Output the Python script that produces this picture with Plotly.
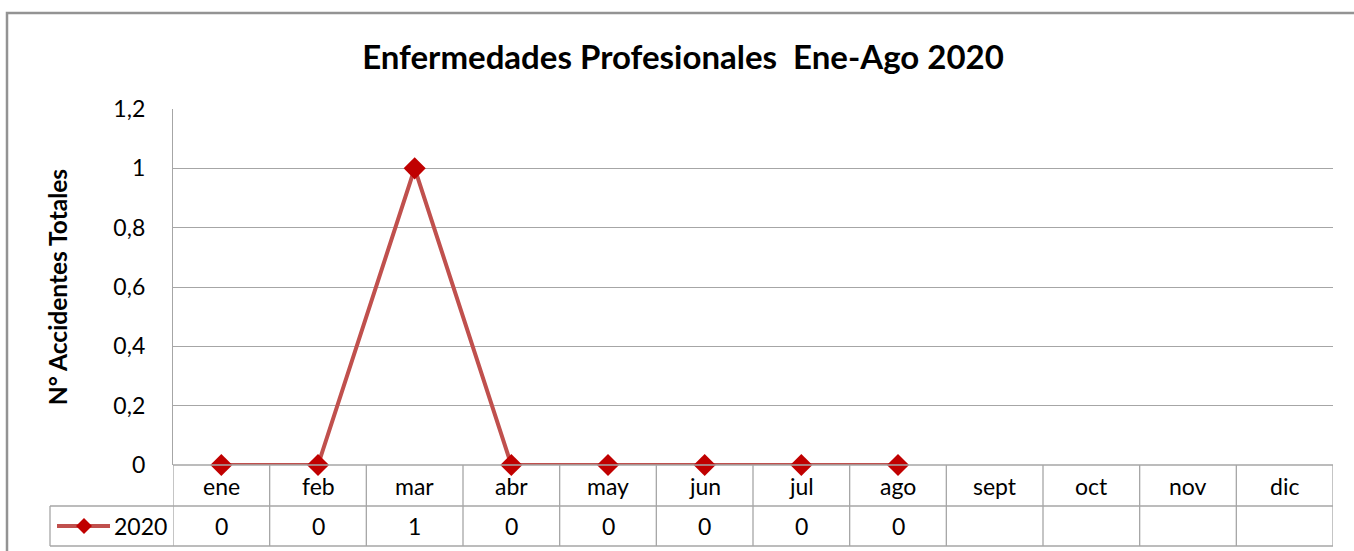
import plotly.graph_objects as go

# Monthly occupational disease counts for 2020 (January to August reported)
months = ["ene", "feb", "mar", "abr", "may", "jun", "jul", "ago",
          "sept", "oct", "nov", "dic"]
series_name = "2020"
values_2020 = [0, 0, 1, 0, 0, 0, 0, 0]
y_ticks = [0, 0.2, 0.4, 0.6, 0.8, 1.0, 1.2]

FONT = "Lato, 'Open Sans', sans-serif"
GRID = "#a6a6a6"
LINE_RED = "#c0504d"
MARK_RED = "#c00000"

W, H = 1354, 551
L, R, T, B = 173, 21, 109, 86
plot_w, plot_h = W - L - R, H - T - B


def px_x(px):
    return (px - L) / plot_w


def px_y(py):
    return (H - B - py) / plot_h


idx = list(range(len(months)))

fig = go.Figure()
fig.add_trace(go.Scatter(
    x=idx[:len(values_2020)], y=values_2020, name=series_name,
    mode="lines+markers",
    line=dict(color=LINE_RED, width=4),
    marker=dict(symbol="diamond", size=17, color=MARK_RED),
    cliponaxis=False, showlegend=False,
))

shapes = []
row1_bot = px_y(506)
row2_bot = px_y(546)
legend_left = px_x(50)
n = len(months)

# data table grid under the axis
for k in range(n + 1):
    xk = k - 0.5
    shapes.append(dict(type="line", xref="x", yref="paper", x0=xk, x1=xk,
                       y0=0, y1=row2_bot, line=dict(color=GRID, width=1.3)))
shapes.append(dict(type="line", xref="x", yref="paper", x0=-0.5, x1=n - 0.5,
                   y0=0, y1=0, line=dict(color=GRID, width=1.3)))
for yy in (row1_bot, row2_bot):
    shapes.append(dict(type="line", xref="paper", yref="paper",
                       x0=legend_left, x1=px_x(L + plot_w), y0=yy, y1=yy,
                       line=dict(color=GRID, width=1.3)))
shapes.append(dict(type="line", xref="paper", yref="paper",
                   x0=legend_left, x1=legend_left, y0=row1_bot, y1=row2_bot,
                   line=dict(color=GRID, width=1.3)))

# legend key inside the table: line sample with a diamond marker
row1_mid = (0 + row1_bot) / 2
row2_mid = (row1_bot + row2_bot) / 2
shapes.append(dict(type="line", xref="paper", yref="paper",
                   x0=px_x(57), x1=px_x(110), y0=row2_mid, y1=row2_mid,
                   line=dict(color=LINE_RED, width=4)))
shapes.append(dict(type="path", xref="paper", yref="paper",
                   xsizemode="pixel", ysizemode="pixel",
                   xanchor=px_x(84), yanchor=row2_mid,
                   path="M -8 0 L 0 8 L 8 0 L 0 -8 Z",
                   fillcolor=MARK_RED, line=dict(width=0)))

# outer chart frame
shapes.append(dict(type="rect", xref="paper", yref="paper",
                   x0=px_x(7), x1=px_x(1370), y0=px_y(13), y1=px_y(570),
                   line=dict(color="#939393", width=2.5)))

annotations = []
for i, m in enumerate(months):
    annotations.append(dict(x=i, y=row1_mid, xref="x", yref="paper", text=m,
                            xanchor="center", yanchor="middle",
                            showarrow=False, font=dict(size=23, color="#000")))
for i, v in enumerate(values_2020):
    annotations.append(dict(x=i, y=row2_mid, xref="x", yref="paper",
                            text=str(v), xanchor="center", yanchor="middle",
                            showarrow=False, font=dict(size=23, color="#000")))
annotations.append(dict(x=px_x(112), y=row2_mid, xref="paper", yref="paper",
                        text=series_name, showarrow=False, xanchor="left",
                        yanchor="middle", font=dict(size=23, color="#000")))

fig.update_layout(
    width=W, height=H,
    margin=dict(l=L, r=R, t=T, b=B, autoexpand=False),
    paper_bgcolor="white", plot_bgcolor="white",
    separators=",.",
    font=dict(family=FONT, color="#000"),
    title=dict(text="<b>Enfermedades Profesionales  Ene-Ago 2020</b>",
               x=683 / W, xref="container", xanchor="center",
               y=1 - 57 / H, yref="container", yanchor="middle",
               font=dict(size=33, color="#000", family=FONT)),
    xaxis=dict(range=[-0.5, n - 0.5], showticklabels=False, showgrid=False,
               zeroline=False, showline=False, ticks=""),
    yaxis=dict(range=[0, 1.2], tickvals=y_ticks, tickformat="~g",
               showgrid=True, gridcolor=GRID, gridwidth=1.3,
               zeroline=False, showline=True, linecolor=GRID, linewidth=1.3,
               ticks="", ticklabelstandoff=22,
               tickfont=dict(size=23, color="#000"),
               title=dict(text="<b>N° Accidentes Totales</b>", standoff=38,
                          font=dict(size=24.5, color="#000"))),
    showlegend=False,
    shapes=shapes,
    annotations=annotations,
)

fig.write_html("out.html")
